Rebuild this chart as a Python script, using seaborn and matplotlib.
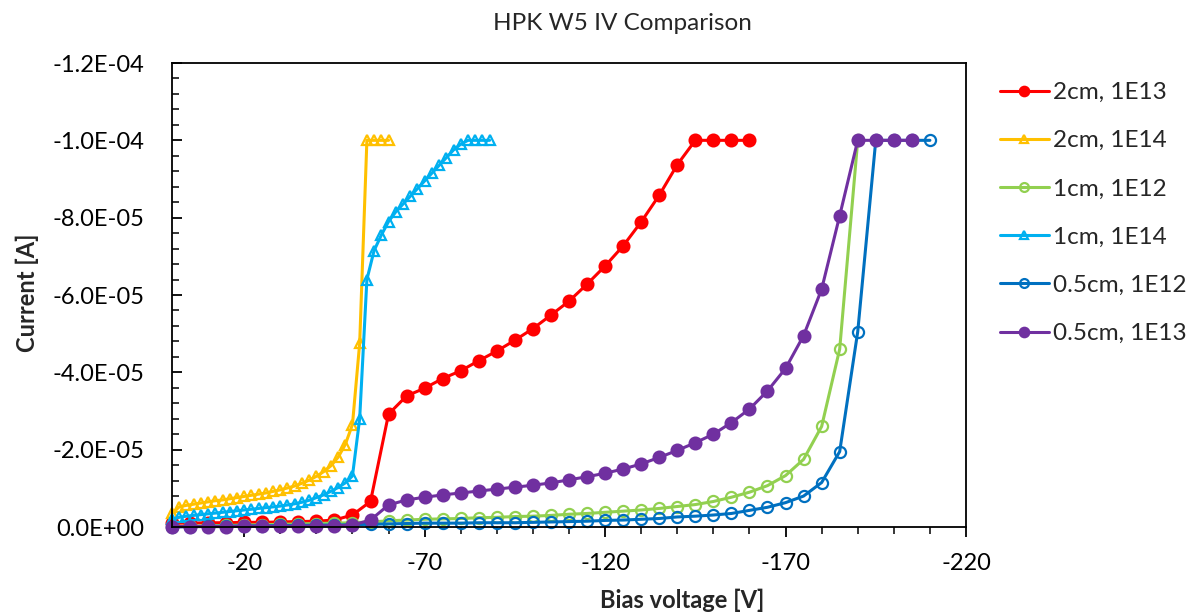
import numpy as np
import pandas as pd
import matplotlib
matplotlib.use("Agg")
import matplotlib.pyplot as plt
import seaborn as sns
from matplotlib.ticker import FixedLocator, FuncFormatter

# ---------------- data (voltage in V, current in µA) ----------------
title = "HPK W5 IV Comparison"
x_label = "Bias voltage [V]"
y_label = "Current [A]"

labels = ["2cm, 1E13", "2cm, 1E14", "1cm, 1E12", "1cm, 1E14", "0.5cm, 1E12", "0.5cm, 1E13"]
colors = ["#FF0000", "#FFC000", "#92D050", "#00B0F0", "#0070C0", "#7030A0"]

v_2cm_1e13 = [0, -5, -10, -15, -20, -25, -30, -35, -40, -45, -50, -55, -60, -65, -70, -75, -80,
              -85, -90, -95, -100, -105, -110, -115, -120, -125, -130, -135, -140, -145, -150,
              -155, -160]
i_2cm_1e13 = [-1.0, -1.0, -1.1, -1.1, -1.2, -1.2, -1.3, -1.4, -1.5, -1.8, -3.1, -6.6, -29.2,
              -33.9, -35.9, -38.4, -40.4, -43.0, -45.5, -48.3, -51.3, -54.8, -58.4, -62.8, -67.5,
              -72.7, -78.9, -85.8, -93.7, -100, -100, -100, -100]

v_2cm_1e14 = [0, -2, -4, -6, -8, -10, -12, -14, -16, -18, -20, -22, -24, -26, -28, -30, -32, -34,
              -36, -38, -40, -42, -44, -46, -48, -50, -52, -54, -56, -58, -60]
i_2cm_1e14 = [-3.5, -5.2, -5.6, -5.9, -6.2, -6.5, -6.8, -7.0, -7.3, -7.6, -7.9, -8.2, -8.5, -8.8,
              -9.2, -9.6, -10.1, -10.6, -11.3, -12.1, -13.1, -14.3, -15.8, -18.0, -21.3, -26.5,
              -47.5, -100, -100, -100, -100]

v_1cm_1e12 = [0, -5, -10, -15, -20, -25, -30, -35, -40, -45, -50, -55, -60, -65, -70, -75, -80,
              -85, -90, -95, -100, -105, -110, -115, -120, -125, -130, -135, -140, -145, -150,
              -155, -160, -165, -170, -175, -180, -185, -190]
i_1cm_1e12 = [-0.1, -0.2, -0.3, -0.4, -0.5, -0.6, -0.7, -0.8, -0.9, -1.0, -1.1, -1.3, -1.6, -1.8,
              -2.0, -2.1, -2.2, -2.4, -2.5, -2.7, -2.8, -3.0, -3.3, -3.5, -3.8, -4.1, -4.4, -4.8,
              -5.3, -5.8, -6.6, -7.7, -9.0, -10.7, -13.3, -17.5, -26.0, -46.0, -100]

v_1cm_1e14 = [0, -2, -4, -6, -8, -10, -12, -14, -16, -18, -20, -22, -24, -26, -28, -30, -32, -34,
              -36, -38, -40, -42, -44, -46, -48, -50, -52, -54, -56, -58, -60, -62, -64, -66, -68,
              -70, -72, -74, -76, -78, -80, -82, -84, -86, -88]
i_1cm_1e14 = [-2.0, -2.5, -2.8, -3.0, -3.2, -3.4, -3.6, -3.8, -4.0, -4.2, -4.4, -4.6, -4.8, -5.0,
              -5.2, -5.4, -5.7, -6.0, -6.4, -6.9, -7.6, -8.3, -9.2, -10.2, -11.4, -13.2, -28.0,
              -64.0, -71.5, -75.5, -79.0, -81.5, -83.5, -85.5, -87.5, -89.5, -91.5, -93.5, -95.5,
              -97.5, -99.0, -100, -100, -100, -100]

v_05cm_1e12 = [0, -5, -10, -15, -20, -25, -30, -35, -40, -45, -50, -55, -60, -65, -70, -75, -80,
               -85, -90, -95, -100, -105, -110, -115, -120, -125, -130, -135, -140, -145, -150,
               -155, -160, -165, -170, -175, -180, -185, -190, -195, -200, -205, -210]
i_05cm_1e12 = [0.0, -0.1, -0.2, -0.2, -0.3, -0.3, -0.4, -0.4, -0.5, -0.5, -0.6, -0.7, -0.8, -0.9,
               -1.0, -1.0, -1.0, -1.1, -1.1, -1.1, -1.2, -1.3, -1.4, -1.5, -1.7, -1.8, -2.0, -2.2,
               -2.6, -2.8, -3.1, -3.5, -4.3, -5.1, -6.3, -8.0, -11.5, -19.5, -50.5, -100, -100,
               -100, -100]

v_05cm_1e13 = [0, -5, -10, -15, -20, -25, -30, -35, -40, -45, -50, -55, -60, -65, -70, -75, -80,
               -85, -90, -95, -100, -105, -110, -115, -120, -125, -130, -135, -140, -145, -150,
               -155, -160, -165, -170, -175, -180, -185, -190, -195, -200, -205]
i_05cm_1e13 = [-0.1, -0.1, -0.1, -0.1, -0.2, -0.2, -0.2, -0.2, -0.3, -0.3, -0.5, -1.8, -5.7, -7.0,
               -7.7, -8.3, -8.8, -9.3, -9.8, -10.3, -10.8, -11.4, -12.2, -13.0, -13.9, -15.0,
               -16.3, -18.0, -19.8, -21.8, -24.0, -27.0, -30.5, -35.2, -41.0, -49.5, -61.5,
               -80.5, -100, -100, -100, -100]

x_major = [-20, -70, -120, -170, -220]
y_major = [0.0, -2e-5, -4e-5, -6e-5, -8e-5, -1.0e-4, -1.2e-4]

# ---------------- plot ----------------
sns.set_theme(style="ticks")
plt.rcParams['font.family'] = ['Lato', 'DejaVu Sans']

W, H = 1202, 614
fig = plt.figure(figsize=(W / 100, H / 100), dpi=100)
ax = fig.add_axes([172 / W, 1 - 527 / H, (966 - 172) / W, (527 - 63) / H])

series = [
    (v_2cm_1e13, i_2cm_1e13, "o", True, 8.5),
    (v_2cm_1e14, i_2cm_1e14, "^", False, 7.5),
    (v_1cm_1e12, i_1cm_1e12, "o", False, 8.0),
    (v_1cm_1e14, i_1cm_1e14, "^", False, 7.5),
    (v_05cm_1e12, i_05cm_1e12, "o", False, 8.0),
    (v_05cm_1e13, i_05cm_1e13, "o", True, 8.5),
]

for (v, i, mk, filled, ms), lab, col in zip(series, labels, colors):
    df = pd.DataFrame({"V": v, "I": np.array(i) * 1e-6})
    sns.lineplot(data=df, x="V", y="I", ax=ax, color=col, label=lab,
                 estimator=None, sort=False, linewidth=2.2,
                 marker=mk, markersize=ms,
                 markerfacecolor=(col if filled else "none"),
                 markeredgecolor=col, markeredgewidth=1.6, clip_on=False)

ax.set_xlim(0, -220)
ax.set_ylim(0, -1.2e-4)

ax.xaxis.set_major_locator(FixedLocator(x_major))
ax.xaxis.set_minor_locator(FixedLocator([t for t in np.arange(-10, -221, -10) if t not in x_major]))
ax.yaxis.set_major_locator(FixedLocator(y_major))
ax.yaxis.set_minor_locator(FixedLocator(list(np.linspace(0, -1.2e-4, 31))))
ax.xaxis.set_major_formatter(FuncFormatter(lambda v, p: f"{v:.0f}"))
ax.yaxis.set_major_formatter(FuncFormatter(lambda v, p: f"{v:.1E}" if abs(v) > 1e-12 else "0.0E+00"))

ax.tick_params(axis="x", which="major", direction="out", length=7, width=1.3, labelsize=17, pad=12, colors="black")
ax.tick_params(axis="x", which="minor", direction="out", length=5, width=1.3)
ax.tick_params(axis="y", which="major", direction="in", length=7, width=1.3, labelsize=17, pad=20, colors="black")
ax.tick_params(axis="y", which="minor", direction="in", length=5, width=1.3)

for s in ax.spines.values():
    s.set_visible(True)
    s.set_color("black")
    s.set_linewidth(1.3)

ax.set_xlabel("")
ax.set_ylabel("")
fig.text(682 / W, 1 - 600 / H, x_label, ha="center", va="center", fontsize=17, fontweight="bold")
fig.text(27 / W, 1 - 293 / H, y_label, ha="center", va="center", rotation=90, fontsize=17, fontweight="bold")
fig.text(622 / W, 1 - 23 / H, title, ha="center", va="center", fontsize=17.5)

handles, labs = ax.get_legend_handles_labels()
ax.legend(handles, labs, loc="upper left", bbox_to_anchor=(1000 / W, 1 - 82 / H),
          bbox_transform=fig.transFigure, frameon=False, fontsize=17.5,
          handlelength=2.0, handletextpad=0.2, labelspacing=1.12,
          borderpad=0, borderaxespad=0, markerscale=0.8)

fig.savefig("out.png", dpi=100)
